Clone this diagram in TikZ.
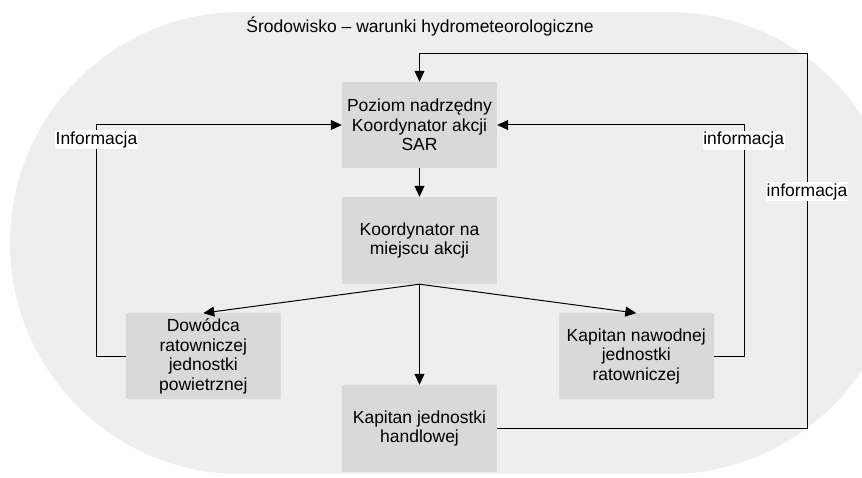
\documentclass[tikz,border=0pt]{standalone}
\usepackage{fontspec}
\setmainfont{Liberation Sans}
\usetikzlibrary{arrows.meta}
\definecolor{envfill}{RGB}{238,238,238}
\definecolor{boxfill}{RGB}{217,217,217}
\begin{document}
\begin{tikzpicture}[x=1pt,y=-1pt,
  txt/.style={font=\fontsize{17.5}{19.5}\selectfont, align=center},
  unit/.style={txt, fill=boxfill, minimum width=155pt, minimum height=86pt, inner sep=0pt},
  infolabel/.style={txt, fill=white, inner xsep=0.5pt, inner ysep=0pt, minimum height=19pt},
  conn/.style={line width=1pt, black},
  arr/.style={conn, -{Triangle[length=11pt,width=10pt]}}]
\useasboundingbox (0,0) rectangle (862,478);

% environment: stadium-shaped background, cut off at the right edge
\begin{scope}
  \clip (0,0) rectangle (862,478);
  \fill[envfill] (10,243) .. controls (10,115.4) and (113.4,12) .. (241,12)
    -- (669,12) .. controls (796.6,12) and (900,115.4) .. (900,243)
    .. controls (900,370.6) and (796.6,474) .. (669,474)
    -- (241,474) .. controls (113.4,474) and (10,370.6) .. (10,243) -- cycle;
\end{scope}

\node[txt, anchor=base] (env) at (420,33) {Środowisko – warunki hydrometeorologiczne};

% command levels
\node[unit] (coord) at (419.5,125) {Poziom nadrzędny\\Koordynator akcji\\SAR};
\node[unit, minimum height=87pt] (osc) at (419.5,240.5) {Koordynator na\\miejscu akcji};
\node[unit] (air) at (203.3,356.3) {Dowódca\\ratowniczej\\jednostki\\powietrznej};
\node[unit] (sea) at (636.3,356.3) {Kapitan nawodnej\\jednostki\\ratowniczej};
\node[unit, minimum height=87pt] (merch) at (419.5,428.5) {Kapitan jednostki\\handlowej};

% orders
\draw[arr] (coord.south) -- (osc.north);
\draw[arr] (osc.south) -- (air.north);
\draw[arr] (osc.south) -- (sea.north);
\draw[arr] (osc.south) -- (merch.north);

% information feedback
\coordinate (loop) at (807,54);
\draw[arr] (air.west) -- ++(-29.5,0) |- (coord.west);
\draw[arr] (sea.east) -- ++(30,0) |- (coord.east);
\draw[arr] (merch.east) -| (loop) -| (coord.north);

\node[infolabel] (infoL) at (96.5,139.5) {Informacja};
\node[infolabel] (infoR) at (743.7,140.3) {informacja};
\node[infolabel] (infoT) at (807,191.7) {informacja};
\end{tikzpicture}
\end{document}
